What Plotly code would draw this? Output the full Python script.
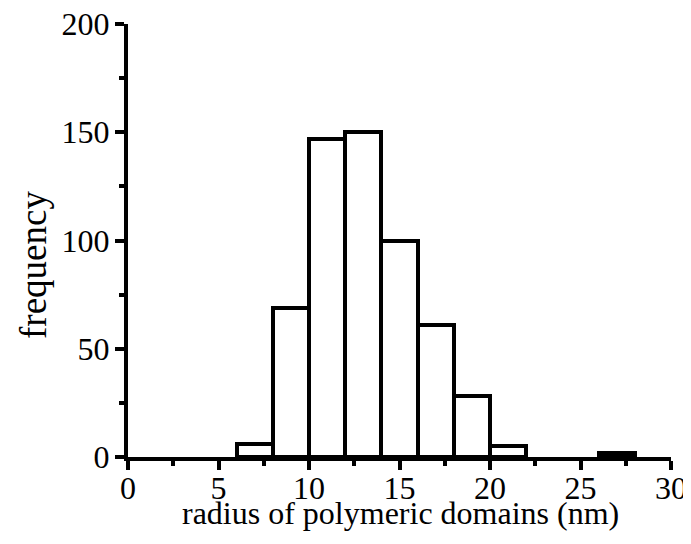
import plotly.graph_objects as go

bin_left = [0, 2, 4, 6, 8, 10, 12, 14, 16, 18, 20, 22, 24, 26, 28]
counts = [0, 0, 0, 6, 69, 147, 150, 100, 61, 28, 5, 0, 0, 2, 0]
bin_width = 2
x_tick_vals = [0, 5, 10, 15, 20, 25, 30]
y_tick_vals = [0, 50, 100, 150, 200]
x_title = "radius of polymeric domains (nm)"
y_title = "frequency"

centers = [b + bin_width / 2 for b, c in zip(bin_left, counts) if c > 0]
vals = [c for c in counts if c > 0]

font_family = "Liberation Serif, Times New Roman, serif"

fig = go.Figure()
fig.add_trace(go.Bar(
    x=centers, y=vals, width=bin_width,
    marker=dict(color="white", line=dict(color="black", width=4)),
    showlegend=False,
))

fig.update_layout(
    width=683, height=528,
    margin=dict(l=120, r=20, t=16, b=79),
    paper_bgcolor="white", plot_bgcolor="white",
    font=dict(family=font_family, size=32, color="black"),
    bargap=0,
    annotations=[
        dict(text=x_title, xref="paper", yref="paper", x=0.5, y=0,
             xanchor="center", yanchor="middle", yshift=-56, xshift=1,
             showarrow=False, font=dict(size=32)),
        dict(text=y_title, xref="paper", yref="paper", x=0, y=0.4434,
             xanchor="center", yanchor="middle", xshift=-95, textangle=-90,
             showarrow=False, font=dict(size=37)),
    ],
)
fig.update_xaxes(
    range=[0, 30], tickvals=x_tick_vals,
    showline=True, linewidth=4, linecolor="black",
    ticks="outside", ticklen=9, tickwidth=4, tickcolor="black",
    minor=dict(dtick=2.5, ticks="outside", ticklen=5, tickwidth=4, tickcolor="black"),
    showgrid=False, zeroline=False, automargin=False,
    tickfont=dict(size=32), ticklabelstandoff=-9, ticklabeloverflow="allow",
)
fig.update_yaxes(
    range=[0, 200], tickvals=y_tick_vals,
    showline=True, linewidth=4, linecolor="black",
    ticks="outside", ticklen=9, tickwidth=4, tickcolor="black",
    minor=dict(dtick=25, ticks="outside", ticklen=5, tickwidth=4, tickcolor="black"),
    showgrid=False, zeroline=False, automargin=False,
    tickfont=dict(size=32), ticklabelstandoff=-1, ticklabeloverflow="allow",
)
fig.write_html("out.html")
